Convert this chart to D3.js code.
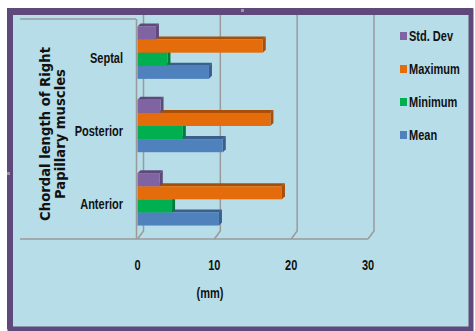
<!DOCTYPE html>
<html>
<head>
<meta charset="utf-8">
<script src="https://cdn.jsdelivr.net/npm/d3@7"></script>
<style>
  body { margin: 0; background: #fff; }
  text { font-family: "Liberation Sans", Arial, sans-serif; font-weight: bold; fill: #111; }
</style>
</head>
<body>
<svg id="chart" width="475" height="331"></svg>
<script>
// data (mm)
var categories = ["Septal", "Posterior", "Anterior"];
var seriesNames = ["Std. Dev", "Maximum", "Minimum", "Mean"];
var stdDev  = [2.4, 3.0, 2.9];
var maximum = [16.3, 17.3, 18.8];
var minimum = [3.9, 5.9, 4.5];
var mean    = [9.3, 11.1, 10.6];
var xTicks = [0, 10, 20, 30];

var seriesValues = {"Std. Dev": stdDev, "Maximum": maximum, "Minimum": minimum, "Mean": mean};
var colors = {
  "Std. Dev": ["#8064a2", "#5e4a7a"],
  "Maximum":  ["#e46c0a", "#a84f07"],
  "Minimum":  ["#00b050", "#007d39"],
  "Mean":     ["#4f81bd", "#3a5f8c"]
};

var svg = d3.select("#chart");

// narrow (calibri-like) label: squeeze horizontally around its anchor
function label(px, py, str, anchor) {
  svg.append("g").attr("transform", "translate(" + px + "," + py + ") scale(0.76,1)")
    .append("text").attr("dy", "0.35em").attr("text-anchor", anchor || "start")
    .attr("font-size", 14.5).text(str);
}

// frame
svg.append("rect").attr("x", 10).attr("y", 11).attr("width", 461).attr("height", 318)
  .attr("fill", "#b7dde8").attr("stroke", "#5f497a").attr("stroke-width", 5);
svg.append("rect").attr("x", 7).attr("y", 8).attr("width", 6).attr("height", 321).attr("fill", "#5f497a");
svg.append("rect").attr("x", 7).attr("y", 8).attr("width", 466).attr("height", 7).attr("fill", "#5f497a");
svg.append("rect").attr("x", 241).attr("y", 9).attr("width", 3).attr("height", 3).attr("fill", "#999");
svg.append("rect").attr("x", 7).attr("y", 172).attr("width", 3).attr("height", 3).attr("fill", "#999");

var x = d3.scaleLinear().domain([0, 30]).range([137.5, 368]);
var y = d3.scaleBand().domain(categories).range([19, 239]);
var inner = d3.scaleBand().domain(seriesNames).range([0, 52.4]);
var dx = 6, dy = -8, floorY = 239;
var grid = "#9a9a9a";

// walls and gridlines
var g = svg.append("g");
g.append("line").attr("x1", 20).attr("x2", 136).attr("y1", 19).attr("y2", 19)
  .attr("stroke", grid).attr("stroke-width", 1.5);
g.append("line").attr("x1", 20).attr("x2", x(30)).attr("y1", floorY).attr("y2", floorY)
  .attr("stroke", grid).attr("stroke-width", 1.5);
g.append("line").attr("x1", x(0) - 1).attr("x2", x(0) - 1).attr("y1", 19).attr("y2", floorY)
  .attr("stroke", grid).attr("stroke-width", 1.5);
xTicks.forEach(function(t) {
  g.append("path")
    .attr("d", "M" + (x(t) + dx) + ",15 V" + (floorY + dy) + " L" + x(t) + "," + floorY)
    .attr("fill", "none").attr("stroke", grid).attr("stroke-width", 1.5);
});

// 3D bars, drawn bottom series first so upper bars cover top faces
var d = 3, barH = inner.bandwidth();
var order = seriesNames.slice().reverse();
categories.forEach(function(c, ci) {
  var top = y(c) + y.bandwidth() / 2 - 3 - 26.2;
  order.forEach(function(s) {
    var v = seriesValues[s][ci];
    var x0 = x(0), x1 = x(v), yy = top + inner(s);
    var col = colors[s];
    svg.append("path")
      .attr("d", "M" + x0 + "," + yy + " L" + (x0 + d) + "," + (yy - d) + " L" + (x1 + d) + "," + (yy - d) + " L" + x1 + "," + yy + "Z")
      .attr("fill", col[1]);
    svg.append("path")
      .attr("d", "M" + x1 + "," + yy + " L" + (x1 + d) + "," + (yy - d) + " L" + (x1 + d) + "," + (yy + barH - d) + " L" + x1 + "," + (yy + barH) + "Z")
      .attr("fill", col[1]);
    svg.append("rect").attr("x", x0).attr("y", yy).attr("width", x1 - x0).attr("height", barH)
      .attr("fill", col[0]);
  });
  label(123, y(c) + y.bandwidth() / 2 + 2, c, "end");
});

// x tick labels
xTicks.forEach(function(t) { label(x(t), 265, t, "middle"); });
label(210, 293, "(mm)", "middle");

// y title
var yt = svg.append("text").attr("transform", "translate(45,134) rotate(-90)")
  .attr("text-anchor", "middle").style("font-family", "'DejaVu Sans', sans-serif").attr("font-size", 13.2);
yt.append("tspan").attr("x", 0).attr("dy", "0.35em").text("Chordal length of Right");
yt.append("tspan").attr("x", 0).attr("dy", "1.2em").text("Papillary muscles");

// legend
seriesNames.forEach(function(s, i) {
  var ly = 36 + i * 33;
  svg.append("rect").attr("x", 400).attr("y", ly - 4).attr("width", 7).attr("height", 8)
    .attr("fill", colors[s][0]);
  label(409, ly, s, "start");
});
</script>
</body>
</html>
